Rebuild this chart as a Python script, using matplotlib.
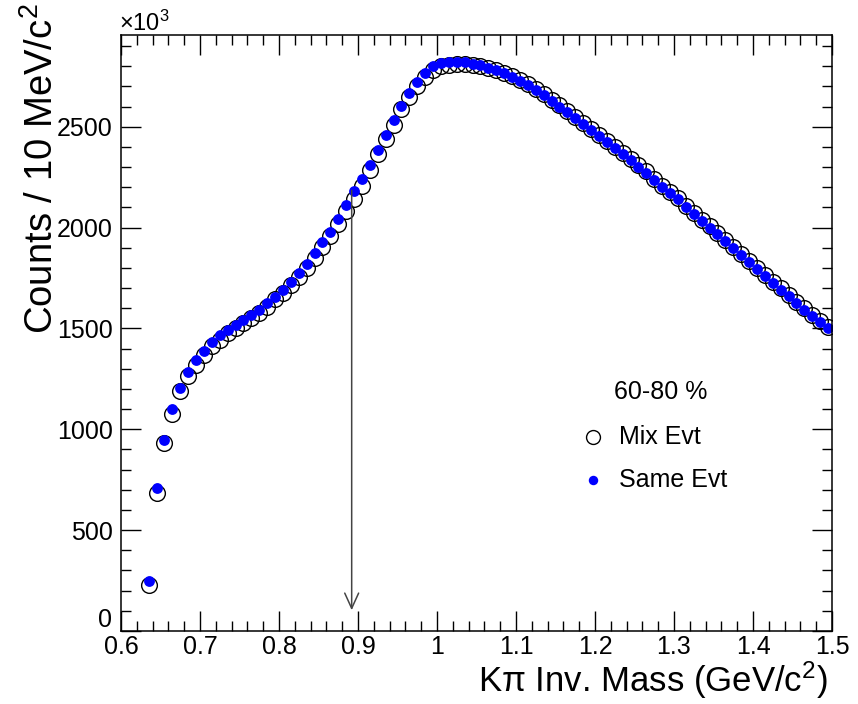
import matplotlib

matplotlib.use("Agg")
import matplotlib.pyplot as plt
from matplotlib.ticker import MultipleLocator, FuncFormatter

plt.rcParams["font.family"] = ["Liberation Sans", "DejaVu Sans"]
plt.rcParams["mathtext.fontset"] = "custom"
plt.rcParams["mathtext.rm"] = "Liberation Sans"
plt.rcParams["mathtext.it"] = "Liberation Sans:italic"

# bin centres (GeV/c^2), 10 MeV bins
mass = [
    0.635, 0.645, 0.655, 0.665, 0.675, 0.685, 0.695, 0.705, 0.715, 0.725,
    0.735, 0.745, 0.755, 0.765, 0.775, 0.785, 0.795, 0.805, 0.815, 0.825,
    0.835, 0.845, 0.855, 0.865, 0.875, 0.885, 0.895, 0.905, 0.915, 0.925,
    0.935, 0.945, 0.955, 0.965, 0.975, 0.985, 0.995, 1.005, 1.015, 1.025,
    1.035, 1.045, 1.055, 1.065, 1.075, 1.085, 1.095, 1.105, 1.115, 1.125,
    1.135, 1.145, 1.155, 1.165, 1.175, 1.185, 1.195, 1.205, 1.215, 1.225,
    1.235, 1.245, 1.255, 1.265, 1.275, 1.285, 1.295, 1.305, 1.315, 1.325,
    1.335, 1.345, 1.355, 1.365, 1.375, 1.385, 1.395, 1.405, 1.415, 1.425,
    1.435, 1.445, 1.455, 1.465, 1.475, 1.485, 1.495,
]

# counts in units of 10^3
same_evt = [
    248, 708, 948, 1100, 1205, 1283, 1345, 1390, 1431, 1466,
    1494, 1519, 1544, 1569, 1594, 1627, 1657, 1693, 1730, 1776,
    1822, 1876, 1929, 1980, 2041, 2110, 2180, 2243, 2311, 2386,
    2459, 2533, 2605, 2665, 2720, 2768, 2800, 2816, 2822, 2823,
    2820, 2813, 2804, 2792, 2780, 2765, 2748, 2728, 2708, 2683,
    2656, 2628, 2600, 2572, 2543, 2513, 2484, 2455, 2425, 2395,
    2364, 2334, 2303, 2273, 2237, 2200, 2170, 2140, 2103, 2067,
    2033, 2000, 1966, 1933, 1898, 1864, 1829, 1794, 1760, 1726,
    1693, 1660, 1627, 1594, 1561, 1532, 1503,
]

mix_evt = [
    227, 686, 931, 1077, 1188, 1266, 1321, 1370, 1412, 1445,
    1478, 1503, 1528, 1553, 1578, 1607, 1644, 1677, 1715, 1757,
    1801, 1851, 1905, 1958, 2016, 2083, 2144, 2207, 2285, 2364,
    2439, 2508, 2588, 2646, 2700, 2745, 2783, 2800, 2808, 2812,
    2812, 2808, 2800, 2790, 2779, 2765, 2750, 2732, 2713, 2689,
    2662, 2634, 2606, 2578, 2549, 2519, 2490, 2461, 2431, 2401,
    2370, 2340, 2309, 2279, 2243, 2206, 2176, 2146, 2109, 2073,
    2039, 2006, 1972, 1939, 1904, 1870, 1835, 1800, 1766, 1732,
    1699, 1666, 1633, 1600, 1567, 1538, 1509,
]

kstar_mass = 0.892
centrality = "60-80 %"

fig = plt.figure(figsize=(8.58, 7.04), dpi=100)
ax = fig.add_axes([121 / 858, 1 - 631 / 704, 711 / 858, 596 / 704])

ax.plot(mass, mix_evt, linestyle="none", marker="o", markersize=11.3,
        markerfacecolor="none", markeredgecolor="black", markeredgewidth=1.0)
ax.plot(mass, same_evt, linestyle="none", marker="o", markersize=7.8,
        markerfacecolor="#0000ff", markeredgecolor="#0000ff", markeredgewidth=0)

ax.annotate("", xy=(kstar_mass, 103), xytext=(kstar_mass, 2185),
            arrowprops=dict(arrowstyle="->,head_length=0.55,head_width=0.25",
                            mutation_scale=20, color="#444444", lw=1.1,
                            shrinkA=0, shrinkB=0))

ax.set_xlim(0.6, 1.5)
ax.set_ylim(0, 2955)
ax.xaxis.set_major_locator(MultipleLocator(0.1))
ax.xaxis.set_minor_locator(MultipleLocator(0.02))
ax.yaxis.set_major_locator(MultipleLocator(500))
ax.yaxis.set_minor_locator(MultipleLocator(100))
ax.set_xticks([0.6, 0.7, 0.8, 0.9, 1.0, 1.1, 1.2, 1.3, 1.4, 1.5])
ax.set_xticklabels(["0.6", "0.7", "0.8", "0.9", "1", "1.1", "1.2", "1.3", "1.4", "1.5"])
# the y "0" sits a bit higher in ROOT, drawn separately below
ax.yaxis.set_major_formatter(FuncFormatter(lambda v, pos: "" if v == 0 else f"{v:.0f}"))
ax.tick_params(which="both", direction="in", top=True, right=True, width=1.0, labelsize=18)
ax.tick_params(which="major", length=14.5)
ax.tick_params(which="minor", length=7.5)
ax.tick_params(axis="x", pad=3)
ax.tick_params(axis="y", pad=6)
for spine in ax.spines.values():
    spine.set_linewidth(1.1)

ax.text(-0.012, 0.018, "0", transform=ax.transAxes, ha="right", va="center", fontsize=18)

fig.text(828 / 858, 1 - 680 / 704, "K\u03c0 Inv. Mass (GeV/c$^{2}$)",
         ha="right", va="center", fontsize=25)
fig.text(42 / 858, 1 - 3 / 704, "Counts / 10 MeV/c$^{2}$",
         rotation=90, ha="center", va="top", fontsize=27.5)
fig.text(119 / 858, 1 - 31 / 704, "\u00d710$^{3}$", ha="left", va="baseline", fontsize=17)

# legend
ax.text(0.693, 0.401, centrality, transform=ax.transAxes, ha="left", va="center", fontsize=18)
ax.plot([0.664], [0.3255], transform=ax.transAxes, marker="o", markersize=10,
        markerfacecolor="none", markeredgecolor="black", markeredgewidth=1.0, clip_on=False)
ax.text(0.700, 0.3255, "Mix Evt", transform=ax.transAxes, ha="left", va="center", fontsize=18)
ax.plot([0.664], [0.2534], transform=ax.transAxes, marker="o", markersize=6.8,
        markerfacecolor="#0000ff", markeredgewidth=0, clip_on=False)
ax.text(0.700, 0.2534, "Same Evt", transform=ax.transAxes, ha="left", va="center", fontsize=18)

fig.savefig("out.png", dpi=100)
